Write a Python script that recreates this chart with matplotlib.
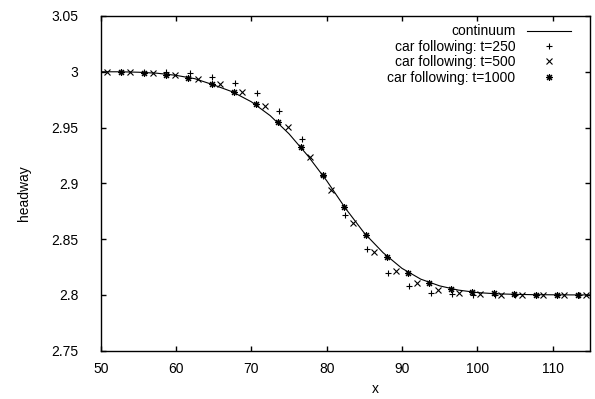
import matplotlib
matplotlib.use('Agg')
import matplotlib.pyplot as plt

plt.rcParams['font.family'] = ['Liberation Sans', 'DejaVu Sans']
plt.rcParams['font.size'] = 10

# continuum solution
x_cont = [50, 52.5, 55, 57.5, 60, 62.5, 65, 67.5, 70, 72.5, 75, 77.5, 80, 82.5,
          85, 87.5, 90, 92.5, 95, 97.5, 100, 102.5, 105, 107.5, 110, 112.5, 115]
h_cont = [3.0000, 3.0000, 2.9996, 2.9987, 2.9968, 2.9938, 2.9882, 2.9820, 2.9731,
          2.9607, 2.9444, 2.9247, 2.9024, 2.8776, 2.8554, 2.8378, 2.8238, 2.8141,
          2.8081, 2.8043, 2.8021, 2.8010, 2.8005, 2.8002, 2.8001, 2.8000, 2.8000]

# car following, t=250
x_250 = [52.70, 55.79, 58.67, 61.79, 64.74, 67.77, 70.76, 73.72, 76.77, 79.52, 82.44,
         85.33, 88.11, 90.94, 93.82, 96.61, 99.48, 102.30, 105.02, 107.81, 110.60, 113.45]
h_250 = [2.9999, 2.9998, 2.9994, 2.9991, 2.9956, 2.9902, 2.9807, 2.9649, 2.9398, 2.9066,
         2.8712, 2.8407, 2.8194, 2.8078, 2.8021, 2.8009, 2.8000, 2.8000, 2.8000, 2.8000,
         2.8000, 2.8000]

# car following, t=500
x_500 = [50.78, 53.85, 56.91, 59.87, 62.86, 65.84, 68.82, 71.82, 74.81, 77.73, 80.64, 83.51,
         86.30, 89.15, 91.97, 94.75, 97.62, 100.37, 103.16, 105.91, 108.78, 111.57, 114.41]
h_500 = [2.9998, 2.9998, 2.9991, 2.9971, 2.9934, 2.9886, 2.9817, 2.9694, 2.9501, 2.9237,
         2.8944, 2.8642, 2.8388, 2.8212, 2.8105, 2.8045, 2.8021, 2.8006, 2.8000, 2.8000,
         2.7997, 2.7997, 2.7997]

# car following, t=1000
x_1000 = [52.70, 55.79, 58.67, 61.63, 64.74, 67.70, 70.58, 73.59, 76.56, 79.48, 82.35,
          85.23, 88.06, 90.85, 93.64, 96.48, 99.27, 102.23, 104.93, 107.77, 110.56, 113.43]
h_1000 = [3.0000, 2.9993, 2.9975, 2.9940, 2.9888, 2.9815, 2.9710, 2.9548, 2.9329, 2.9075,
          2.8791, 2.8538, 2.8338, 2.8194, 2.8105, 2.8054, 2.8024, 2.8015, 2.8006, 2.8000,
          2.8000, 2.8000]

fig = plt.figure(figsize=(5.95, 3.99), dpi=100)
ax = fig.add_axes([0.1693, 0.1211, 0.8227, 0.8388])

ax.plot(x_cont, h_cont, color='black', lw=0.8, label='continuum')
ax.plot(x_250, h_250, ls='none', marker='+', ms=5, mew=0.8, color='black',
        label='car following: t=250')
ax.plot(x_500, h_500, ls='none', marker='x', ms=4, mew=0.8, color='black',
        label='car following: t=500')
ax.plot(x_1000, h_1000, ls='none', marker=(8, 2, 0), ms=5, mew=0.8, color='black',
        label='car following: t=1000')

ax.set_xlim(50, 115)
ax.set_ylim(2.75, 3.05)
ax.set_xticks([50, 60, 70, 80, 90, 100, 110])
ax.set_yticks([2.75, 2.8, 2.85, 2.9, 2.95, 3.0, 3.05])
ax.set_yticklabels(['2.75', '2.8', '2.85', '2.9', '2.95', '3', '3.05'])

ax.tick_params(direction='in', length=3.6, width=1.0, top=True, right=True)
ax.tick_params(axis='x', pad=8)
ax.tick_params(axis='y', pad=16)
for s in ax.spines.values():
    s.set_linewidth(1.0)

ax.set_xlabel('x')
ax.xaxis.set_label_coords(0.56, -0.095)
ax.set_ylabel('headway')
ax.yaxis.set_label_coords(-0.143, 0.47)

leg = ax.legend(loc='upper right', bbox_to_anchor=(0.961, 0.975), frameon=False,
                markerfirst=False, borderpad=0, borderaxespad=0, handlelength=3.2,
                handletextpad=0.8, labelspacing=0.1)

fig.savefig('out.png', dpi=100)
